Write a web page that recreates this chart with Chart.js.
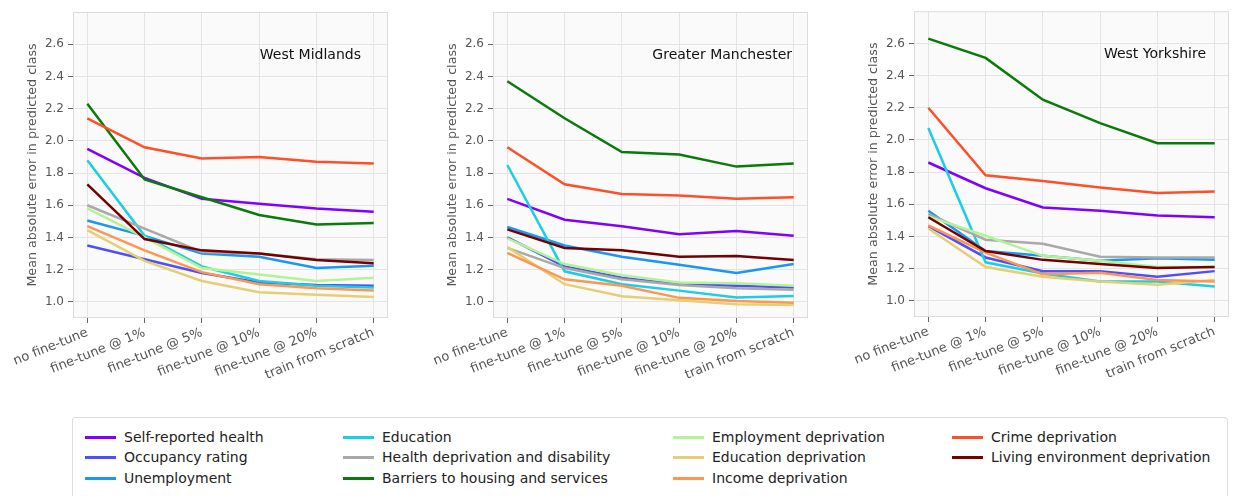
<!DOCTYPE html>
<html>
<head>
<meta charset="utf-8">
<script src="https://cdn.jsdelivr.net/npm/chart.js@4"></script>
<style>
  body { margin: 0; background: #fff; width: 1236px; height: 496px; overflow: hidden; position: relative; font-family: "DejaVu Sans", sans-serif; }
  .panel { position: absolute; top: 0; height: 400px; }
  #legend { position: absolute; left: 72px; top: 417px; width: 1156px; height: 100px; border: 1px solid #dedede; border-radius: 3px; box-sizing: border-box; }
  .item { position: absolute; font-size: 14px; color: #222; white-space: nowrap; line-height: 16px; }
  .item span.swatch { position: absolute; top: 7px; height: 3px; width: 31px; }
</style>
</head>
<body>
<div class="panel" style="left:0;width:400px"><canvas id="wm"></canvas></div>
<div class="panel" style="left:420px;width:400px"><canvas id="gm"></canvas></div>
<div class="panel" style="left:841px;width:395px"><canvas id="wy"></canvas></div>
<div id="legend"></div>

<script>
// x categories and y ticks
const stages = ['no fine-tune', 'fine-tune @ 1%', 'fine-tune @ 5%', 'fine-tune @ 10%', 'fine-tune @ 20%', 'train from scratch'];
const yTicks = [1.0, 1.2, 1.4, 1.6, 1.8, 2.0, 2.2, 2.4, 2.6];

// target variables, in legend order
const targets = [
    'Self-reported health', 'Occupancy rating', 'Unemployment', 'Education',
    'Health deprivation and disability', 'Barriers to housing and services',
    'Employment deprivation', 'Education deprivation', 'Income deprivation',
    'Crime deprivation', 'Living environment deprivation'
];
const colours = ['#8000ff', '#4d4ffc', '#1a96f3', '#1acee3', '#a9a9a9', '#0a7a0a',
                 '#b3f396', '#e6ce74', '#ff964f', '#ff4f28', '#750000'];

// mean absolute error per target (rows follow `targets`)
const westMidlands = [
    [1.95, 1.77, 1.64, 1.61, 1.58, 1.56],
    [1.35, 1.265, 1.18, 1.12, 1.105, 1.10],
    [1.505, 1.41, 1.30, 1.28, 1.21, 1.225],
    [1.88, 1.41, 1.22, 1.13, 1.10, 1.09],
    [1.60, 1.455, 1.31, 1.30, 1.265, 1.26],
    [2.23, 1.76, 1.65, 1.54, 1.48, 1.49],
    [1.58, 1.40, 1.21, 1.17, 1.13, 1.15],
    [1.445, 1.255, 1.13, 1.06, 1.045, 1.03],
    [1.47, 1.32, 1.185, 1.11, 1.085, 1.07],
    [2.14, 1.96, 1.89, 1.90, 1.87, 1.86],
    [1.73, 1.39, 1.32, 1.30, 1.26, 1.24]
];
const greaterManchester = [
    [1.64, 1.51, 1.47, 1.42, 1.44, 1.41],
    [1.40, 1.22, 1.15, 1.11, 1.10, 1.09],
    [1.465, 1.35, 1.28, 1.23, 1.18, 1.235],
    [1.85, 1.19, 1.11, 1.07, 1.027, 1.037],
    [1.335, 1.21, 1.14, 1.105, 1.085, 1.075],
    [2.37, 2.14, 1.93, 1.915, 1.84, 1.86],
    [1.395, 1.235, 1.165, 1.12, 1.115, 1.10],
    [1.34, 1.11, 1.035, 1.01, 0.985, 0.98],
    [1.305, 1.14, 1.10, 1.025, 1.005, 0.995],
    [1.96, 1.73, 1.67, 1.66, 1.64, 1.65],
    [1.45, 1.335, 1.32, 1.28, 1.285, 1.26]
];
const westYorkshire = [
    [1.86, 1.70, 1.58, 1.56, 1.53, 1.52],
    [1.465, 1.27, 1.185, 1.185, 1.15, 1.185],
    [1.56, 1.31, 1.28, 1.25, 1.265, 1.255],
    [2.075, 1.24, 1.17, 1.12, 1.12, 1.09],
    [1.54, 1.38, 1.355, 1.275, 1.27, 1.27],
    [2.63, 2.51, 2.25, 2.105, 1.98, 1.98],
    [1.525, 1.405, 1.28, 1.25, 1.21, 1.21],
    [1.45, 1.21, 1.15, 1.12, 1.10, 1.13],
    [1.47, 1.30, 1.165, 1.175, 1.13, 1.12],
    [2.20, 1.78, 1.745, 1.705, 1.67, 1.68],
    [1.52, 1.31, 1.255, 1.23, 1.205, 1.21]
];

// plot face + frame
const frame = {
    id: 'frame',
    beforeDatasetsDraw(chart) {
        const a = chart.chartArea, ctx = chart.ctx;
        ctx.save();
        ctx.strokeStyle = '#dcdcdc';
        ctx.lineWidth = 1;
        ctx.strokeRect(a.left + 0.5, a.top + 0.5, a.right - a.left - 1, a.bottom - a.top - 1);
        ctx.restore();
    },
    beforeDraw(chart) {
        const a = chart.chartArea, ctx = chart.ctx;
        ctx.save();
        ctx.fillStyle = '#fafafa';
        ctx.fillRect(a.left, a.top, a.right - a.left, a.bottom - a.top);
        ctx.restore();
    }
};

// region name drawn inside the plot
const regionLabel = {
    id: 'regionLabel',
    afterDraw(chart, args, opts) {
        const a = chart.chartArea, ctx = chart.ctx;
        ctx.save();
        ctx.font = '14px "DejaVu Sans"';
        ctx.fillStyle = '#111';
        ctx.textAlign = 'right';
        ctx.textBaseline = 'middle';
        ctx.fillText(opts.text, a.right - opts.inset, a.top + 43);
        ctx.restore();
    }
};

function drawRegion(id, name, values, inset, top, rightPad) {
    new Chart(document.getElementById(id), {
        type: 'line',
        data: {
            datasets: values.map((row, i) => ({
                label: targets[i],
                data: row.map((v, j) => ({ x: j, y: v })),
                borderColor: colours[i],
                backgroundColor: colours[i],
                borderWidth: 2.5,
                pointRadius: 0,
                tension: 0,
                order: -i
            }))
        },
        options: {
            responsive: true,
            maintainAspectRatio: false,
            animation: false,
            layout: { padding: { left: 0, top: top, right: rightPad, bottom: 0 } },
            plugins: {
                legend: { display: false },
                tooltip: { enabled: false },
                regionLabel: { text: name, inset: inset }
            },
            scales: {
                x: {
                    type: 'linear',
                    min: -0.25,
                    max: 5.25,
                    afterBuildTicks: axis => { axis.ticks = stages.map((_, i) => ({ value: i })); },
                    afterFit: axis => { axis.height = 400 - top - 306; },
                    ticks: {
                        autoSkip: false,
                        minRotation: 22,
                        maxRotation: 22,
                        padding: 2,
                        color: '#555',
                        font: { family: 'DejaVu Sans', size: 13 },
                        callback: v => stages[v]
                    },
                    grid: { color: '#e4e4e4', tickColor: '#666', tickLength: 5 },
                    border: { display: false }
                },
                y: {
                    min: 0.9,
                    max: 2.8,
                    afterBuildTicks: axis => { axis.ticks = yTicks.map(v => ({ value: v })); },
                    afterFit: axis => { axis.width = 73; },
                    ticks: {
                        padding: 4,
                        color: '#555',
                        font: { family: 'DejaVu Sans', size: 12 },
                        callback: v => v.toFixed(1)
                    },
                    grid: { color: '#e4e4e4', tickColor: '#666', tickLength: 5 },
                    border: { display: false },
                    title: {
                        display: true,
                        text: 'Mean absolute error in predicted class',
                        color: '#555',
                        font: { family: 'DejaVu Sans', size: 12.7 },
                        padding: { top: 25, bottom: 0 }
                    }
                }
            }
        },
        plugins: [frame, regionLabel]
    });
}

drawRegion('wm', 'West Midlands', westMidlands, 27, 12, 12);
drawRegion('gm', 'Greater Manchester', greaterManchester, 16, 12, 12);
drawRegion('wy', 'West Yorkshire', westYorkshire, 23, 11, 7);

// shared legend, four columns filled top to bottom
const legendCols = [12, 270, 600, 879];
const legendRows = [11, 31, 52];
const legend = document.getElementById('legend');
targets.forEach((name, i) => {
    const col = Math.floor(i / 3), row = i % 3;
    const item = document.createElement('div');
    item.className = 'item';
    item.style.left = legendCols[col] + 'px';
    item.style.top = legendRows[row] + 'px';
    item.style.paddingLeft = '39px';
    item.innerHTML = '<span class="swatch" style="left:0;background:' + colours[i] + '"></span>' + name;
    legend.appendChild(item);
});
</script>
</body>
</html>
